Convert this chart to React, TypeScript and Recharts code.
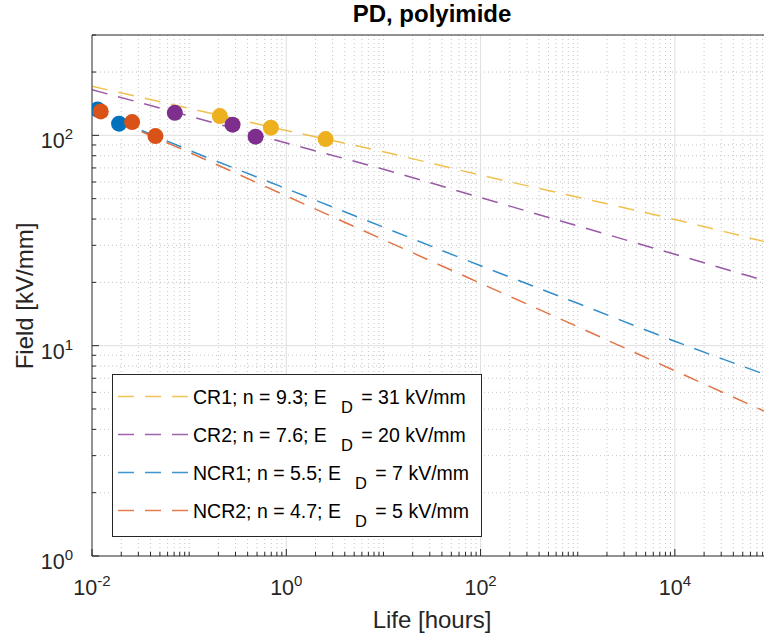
import React from "react";
import {
  ComposedChart,
  Line,
  Scatter,
  XAxis,
  YAxis,
  ReferenceLine,
} from "recharts";

// measured breakdown points: life [h], field [kV/mm]
const cr1Life = [0.207, 0.694, 2.54];
const cr1Field = [123.5, 108.8, 96.0];
const cr2Life = [0.0712, 0.28, 0.483];
const cr2Field = [127.9, 112.4, 98.6];
const ncr1Life = [0.0114, 0.019];
const ncr1Field = [132.8, 113.6];
const ncr2Life = [0.0123, 0.0259, 0.045];
const ncr2Field = [130.0, 115.6, 99.2];

const fitLife = [0.01, 0.1, 1, 10, 100, 1000, 10000, 100000];
const cr1Fit = [171, 134.4, 105.5, 83.5, 64.7, 50.8, 39.8, 30.6];
const cr2Fit = [164.8, 123.6, 92, 69, 50.6, 37.1, 27.2, 19.9];
const ncr1Fit = [133, 85, 55.8, 36.6, 24.0, 15.9, 10.5, 7.1];
const ncr2Fit = [131, 83, 51.5, 31.9, 19.8, 12.3, 7.6, 4.7];

const names = ["CR1", "CR2", "NCR1", "NCR2"];
const nValues = ["9.3", "7.6", "5.5", "4.7"];
const edValues = ["31", "20", "7", "5"];
const colors = ["#EDB120", "#7E2F8E", "#0072BD", "#D95319"];

const lifeMajor = [0.01, 1, 100, 10000];
const lifeExp = ["-2", "0", "2", "4"];
const fieldMajor = [1, 10, 100];
const fieldExp = ["0", "1", "2"];

const LIFE_MAX = 100000;
const FIELD_MAX = 300;
const AXIS = "#262626";
const FONT = "'Liberation Sans', Arial, Helvetica, sans-serif";

function decadeTicks(from: number, to: number, max: number) {
  const out: number[] = [];
  for (let d = from; d <= to; d++) {
    for (let m = 1; m <= 9; m++) {
      const v = m * Math.pow(10, d);
      if (v <= max * 1.0001) out.push(v);
    }
  }
  return out;
}

const same = (a: number, b: number) => Math.abs(a / b - 1) < 1e-6;

const lifeTicks = decadeTicks(-2, 5, LIFE_MAX);
const fieldTicks = decadeTicks(0, 2, FIELD_MAX);
const lifeMinor = lifeTicks.filter(
  (v) => !lifeMajor.some((m) => same(v, m)) && !same(v, LIFE_MAX)
);
const fieldMinor = fieldTicks.filter(
  (v) => !fieldMajor.some((m) => same(v, m)) && !same(v, FIELD_MAX)
);

const toPts = (life: number[], field: number[]) =>
  life.map((L, i) => ({ L, E: field[i] }));

const curves = [cr1Fit, cr2Fit, ncr1Fit, ncr2Fit].map((f) => toPts(fitLife, f));
const points = [
  toPts(cr1Life, cr1Field),
  toPts(cr2Life, cr2Field),
  toPts(ncr1Life, ncr1Field),
  toPts(ncr2Life, ncr2Field),
];

function LifeTick(props: any) {
  const { x, y, payload, side } = props;
  const i = lifeMajor.findIndex((m) => same(payload.value, m));
  const len = i >= 0 ? 7 : 4;
  const top = side === "top";
  return (
    <g>
      <line
        x1={x}
        x2={x}
        y1={y}
        y2={top ? y + len : y - len}
        stroke={AXIS}
        strokeWidth={1}
      />
      {!top && i >= 0 && (
        <text
          x={x}
          y={y + 39}
          textAnchor="middle"
          fontSize={21.5}
          fill={AXIS}
        >
          10
          <tspan dy={-9} fontSize={15}>
            {lifeExp[i]}
          </tspan>
        </text>
      )}
    </g>
  );
}

function FieldTick(props: any) {
  const { x, y, payload } = props;
  const i = fieldMajor.findIndex((m) => same(payload.value, m));
  const len = i >= 0 ? 7 : 4;
  return (
    <g>
      <line x1={x} x2={x + len} y1={y} y2={y} stroke={AXIS} strokeWidth={1} />
      {i >= 0 && (
        <text x={x - 19} y={y + 13} textAnchor="end" fontSize={21.5} fill={AXIS}>
          10
          <tspan dy={-9} fontSize={15}>
            {fieldExp[i]}
          </tspan>
        </text>
      )}
    </g>
  );
}

function LegendBox() {
  return (
    <div
      style={{
        position: "absolute",
        left: 112,
        top: 374,
        width: 370,
        height: 163,
        boxSizing: "border-box",
        border: `1px solid ${AXIS}`,
        background: "#fff",
        fontSize: 19.5,
        color: "#000",
      }}
    >
      {names.map((name, i) => (
        <div
          key={name}
          style={{
            position: "absolute",
            left: 0,
            top: 11 + i * 37.9,
            height: 22,
            width: "100%",
          }}
        >
          <svg
            width={80}
            height={22}
            style={{ position: "absolute", left: 0, top: 0 }}
          >
            <line
              x1={5}
              x2={75}
              y1={10.5}
              y2={10.5}
              stroke={colors[i]}
              strokeWidth={1.5}
              strokeDasharray="16 11"
              opacity={0.75}
            />
          </svg>
          <span
            style={{
              position: "absolute",
              left: 80,
              top: 0,
              lineHeight: "22px",
              whiteSpace: "nowrap",
            }}
          >
            {name}; n = {nValues[i]}; E
            <span
              style={{
                fontSize: 16.5,
                position: "relative",
                top: 9,
                marginLeft: 14,
                marginRight: 3,
              }}
            >
              D
            </span>{" "}
            = {edValues[i]} kV/mm
          </span>
        </div>
      ))}
    </div>
  );
}

export default function App() {
  return (
    <div
      style={{
        position: "absolute",
        left: 0,
        top: 0,
        width: 764,
        height: 636,
        overflow: "hidden",
        background: "#fff",
        fontFamily: FONT,
      }}
    >
      <div
        style={{
          position: "absolute",
          left: 0,
          top: 0,
          width: 864,
          textAlign: "center",
          fontSize: 24,
          fontWeight: "bold",
          lineHeight: "28px",
          color: "#000",
        }}
      >
        PD, polyimide
      </div>

      <ComposedChart
        width={772}
        height={636}
        margin={{ top: 5, right: 0, bottom: 0, left: 0 }}
      >
        <XAxis
          dataKey="L"
          type="number"
          scale="log"
          domain={[0.01, LIFE_MAX]}
          allowDataOverflow
          ticks={lifeTicks}
          interval={0}
          height={80}
          tickSize={0}
          tickMargin={0}
          tickLine={false}
          axisLine={{ stroke: AXIS }}
          tick={(p: any) => <LifeTick {...p} side="bottom" />}
        />
        <XAxis
          xAxisId="top"
          orientation="top"
          type="number"
          scale="log"
          domain={[0.01, LIFE_MAX]}
          allowDataOverflow
          ticks={lifeTicks}
          interval={0}
          height={30}
          tickSize={0}
          tickMargin={0}
          tickLine={false}
          axisLine={{ stroke: AXIS }}
          tick={(p: any) => <LifeTick {...p} side="top" />}
        />
        <YAxis
          dataKey="E"
          type="number"
          scale="log"
          domain={[1, FIELD_MAX]}
          allowDataOverflow
          ticks={fieldTicks}
          interval={0}
          width={92}
          tickSize={0}
          tickMargin={0}
          tickLine={false}
          axisLine={{ stroke: AXIS }}
          tick={(p: any) => <FieldTick {...p} />}
        />

        {lifeMinor.map((v) => (
          <ReferenceLine
            key={`lm${v}`}
            x={v}
            stroke="#c4c4c4"
            strokeDasharray="1 3"
          />
        ))}
        {fieldMinor.map((v) => (
          <ReferenceLine
            key={`fm${v}`}
            y={v}
            stroke="#c4c4c4"
            strokeDasharray="1 3"
          />
        ))}
        {lifeMajor.slice(1).map((v) => (
          <ReferenceLine key={`lM${v}`} x={v} stroke="#dfdfdf" />
        ))}
        {fieldMajor.slice(1).map((v) => (
          <ReferenceLine key={`fM${v}`} y={v} stroke="#dfdfdf" />
        ))}

        {curves.map((c, i) => (
          <Line
            key={`c${i}`}
            data={c}
            dataKey="E"
            type="monotone"
            stroke={colors[i]}
            strokeWidth={1.5}
            strokeDasharray="16 11"
            strokeOpacity={0.8}
            dot={false}
            activeDot={false}
            isAnimationActive={false}
          />
        ))}
        {points.map((pts, i) => (
          <Scatter
            key={`p${i}`}
            data={pts}
            dataKey="E"
            fill={colors[i]}
            isAnimationActive={false}
            shape={(p: any) => (
              <circle cx={p.cx} cy={p.cy} r={8} fill={colors[i]} />
            )}
          />
        ))}
      </ComposedChart>

      <div
        style={{
          position: "absolute",
          left: 0,
          top: 606,
          width: 864,
          textAlign: "center",
          fontSize: 24,
          lineHeight: "28px",
          color: AXIS,
        }}
      >
        Life [hours]
      </div>
      <div
        style={{
          position: "absolute",
          left: 25 - 100,
          top: 296 - 15,
          width: 200,
          height: 30,
          lineHeight: "30px",
          textAlign: "center",
          fontSize: 24,
          color: AXIS,
          transform: "rotate(-90deg)",
          whiteSpace: "nowrap",
        }}
      >
        Field [kV/mm]
      </div>

      <LegendBox />
    </div>
  );
}
